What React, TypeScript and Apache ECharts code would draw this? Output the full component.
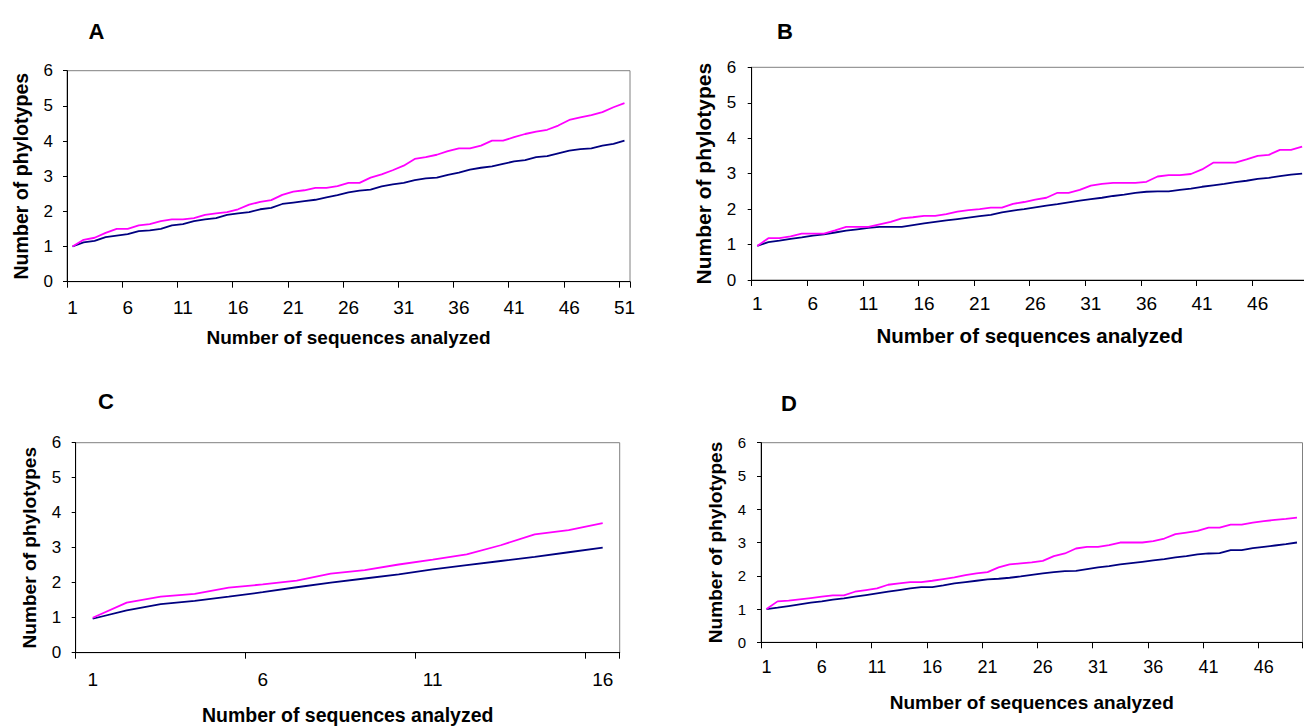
import React, { useEffect, useRef } from "react";
import * as echarts from "echarts";

// ---- Data ----
const aCount = 51;
const aMagenta = [1.0, 1.19, 1.25, 1.39, 1.5, 1.5, 1.6, 1.64, 1.72, 1.77, 1.77, 1.81, 1.9, 1.94, 1.98, 2.06, 2.19, 2.27, 2.32, 2.47, 2.56, 2.6, 2.67, 2.67, 2.72, 2.81,
  2.81, 2.96, 3.05, 3.17, 3.3, 3.49, 3.54, 3.61, 3.71, 3.79, 3.79, 3.87, 4.01, 4.01, 4.11, 4.2, 4.27, 4.32, 4.44, 4.6, 4.67, 4.74, 4.82, 4.96, 5.08];
const aNavy = [1.0, 1.12, 1.16, 1.27, 1.31, 1.35, 1.44, 1.46, 1.5, 1.6, 1.64, 1.72, 1.77, 1.81, 1.9, 1.94, 1.98, 2.06, 2.1, 2.21, 2.25, 2.29, 2.33, 2.4, 2.46, 2.54,
  2.59, 2.62, 2.71, 2.77, 2.81, 2.89, 2.94, 2.96, 3.04, 3.1, 3.19, 3.24, 3.28, 3.35, 3.42, 3.46, 3.54, 3.57, 3.65, 3.73, 3.77, 3.79, 3.87, 3.92, 4.01];

const bCount = 50;
const bMagenta = [0.96, 1.18, 1.18, 1.23, 1.31, 1.31, 1.31, 1.4, 1.5, 1.5, 1.5, 1.57, 1.64, 1.74, 1.77, 1.81, 1.81, 1.86, 1.93, 1.97, 2.0, 2.04, 2.04,
  2.15, 2.2, 2.27, 2.32, 2.46, 2.46, 2.54, 2.66, 2.71, 2.74, 2.74, 2.74, 2.77, 2.92, 2.96, 2.96, 2.99, 3.12, 3.31, 3.31, 3.31, 3.4, 3.5, 3.53, 3.67, 3.67, 3.76];
const bNavy = [0.96, 1.07, 1.11, 1.16, 1.2, 1.25, 1.29, 1.34, 1.39, 1.43, 1.47, 1.5, 1.5, 1.5, 1.55, 1.6, 1.64, 1.68, 1.72, 1.76, 1.8, 1.84, 1.91,
  1.96, 2.0, 2.05, 2.1, 2.14, 2.19, 2.24, 2.28, 2.32, 2.37, 2.41, 2.46, 2.49, 2.5, 2.5, 2.54, 2.58, 2.63, 2.67, 2.71, 2.76, 2.8, 2.85, 2.88, 2.93, 2.97, 3.0];

const cCount = 16;
const cMagenta = [1.0, 1.43, 1.6, 1.68, 1.86, 1.95, 2.06, 2.26, 2.36, 2.52, 2.66, 2.81, 3.07, 3.38, 3.5, 3.7];
const cNavy = [0.97, 1.21, 1.39, 1.48, 1.6, 1.73, 1.87, 2.0, 2.12, 2.24, 2.38, 2.5, 2.62, 2.74, 2.87, 3.0];

const dCount = 49;
const dMagenta = [1.0, 1.23, 1.25, 1.29, 1.33, 1.37, 1.41, 1.41, 1.52, 1.57, 1.62, 1.73, 1.77, 1.81, 1.81, 1.85, 1.9, 1.95, 2.02, 2.07, 2.11,
  2.25, 2.34, 2.37, 2.4, 2.45, 2.59, 2.67, 2.82, 2.87, 2.87, 2.92, 3.0, 3.0, 3.0, 3.04, 3.12, 3.25, 3.3, 3.35, 3.45, 3.45, 3.54, 3.54, 3.6, 3.64, 3.68, 3.71, 3.75];
const dNavy = [1.0, 1.04, 1.09, 1.14, 1.19, 1.23, 1.28, 1.32, 1.37, 1.42, 1.47, 1.52, 1.57, 1.62, 1.66, 1.66, 1.71, 1.77, 1.81, 1.85, 1.89,
  1.91, 1.94, 1.98, 2.03, 2.07, 2.11, 2.14, 2.15, 2.2, 2.25, 2.29, 2.34, 2.38, 2.42, 2.46, 2.5, 2.55, 2.59, 2.64, 2.67, 2.68, 2.77, 2.77, 2.83, 2.87, 2.91, 2.95, 3.0];

const yTicks = { min: 0, max: 6, step: 1 };
const panelLetters = ["A", "B", "C", "D"];
const xTitle = "Number of sequences analyzed";
const yTitle = "Number of phylotypes";

const categories = (n: number) => Array.from({ length: n }, (_, i) => String(i + 1));

// ---- Layout / style ----
const FONT = 'Arial, "Liberation Sans", Helvetica, sans-serif';
const MAGENTA = "#FF00FF";
const NAVY = "#000080";

const panels = [
  { count: aCount, magenta: aMagenta, navy: aNavy, grid: { left: 67, top: 70.7, width: 563.0, height: 211.0 },
    yLabelSize: 17, yLabelMargin: 14, xLabelSize: 19, xLabelMargin: 16, yNameSize: 19.6, yNameGap: 35.7, xNameSize: 19, xNameGap: 46,
    letter: { x: 96.5, y: 31 } },
  { count: bCount, magenta: bMagenta, navy: bNavy, grid: { left: 751.7, top: 67.3, width: 556.0, height: 212.7 },
    yLabelSize: 17, yLabelMargin: 15.5, xLabelSize: 19, xLabelMargin: 14, yNameSize: 21, yNameGap: 38.2, xNameSize: 20.5, xNameGap: 45,
    letter: { x: 785, y: 31 } },
  { count: cCount, magenta: cMagenta, navy: cNavy, grid: { left: 75.7, top: 442.7, width: 544.0, height: 210.0 },
    yLabelSize: 17, yLabelMargin: 14.5, xLabelSize: 19, xLabelMargin: 17.5, yNameSize: 19.1, yNameGap: 36.6, xNameSize: 19.5, xNameGap: 52.6,
    letter: { x: 106, y: 401 } },
  { count: dCount, magenta: dMagenta, navy: dNavy, grid: { left: 761, top: 442.7, width: 541.5, height: 199.6 },
    yLabelSize: 15, yLabelMargin: 15, xLabelSize: 18, xLabelMargin: 16, yNameSize: 19.1, yNameGap: 35.9, xNameSize: 19, xNameGap: 51,
    letter: { x: 789, y: 403 } },
];

export default function App() {
  const ref = useRef<HTMLDivElement>(null);

  useEffect(() => {
    if (!ref.current) return;
    const chart = echarts.init(ref.current, undefined, { renderer: "svg" });

    const grid = panels.map((p) => ({
      ...p.grid,
      show: true,
      borderColor: "#808080",
      borderWidth: 1,
      backgroundColor: "transparent",
      containLabel: false,
      outerBoundsMode: "none",
    }));

    const xAxis = panels.map((p, i) => ({
      gridIndex: i,
      type: "category",
      data: categories(p.count),
      boundaryGap: true,
      axisLine: { show: true, lineStyle: { color: "#000", width: 1 } },
      axisTick: { show: true, interval: 4, length: 6, lineStyle: { color: "#000", width: 1 } },
      axisLabel: { interval: 4, fontSize: p.xLabelSize, color: "#000", margin: p.xLabelMargin, fontFamily: FONT, hideOverlap: false },
      splitLine: { show: false },
      name: xTitle,
      nameLocation: "middle",
      nameGap: p.xNameGap,
      nameTextStyle: { fontWeight: "bold", fontSize: p.xNameSize, color: "#000", fontFamily: FONT },
    }));

    const yAxis = panels.map((p, i) => ({
      gridIndex: i,
      type: "value",
      min: yTicks.min,
      max: yTicks.max,
      interval: yTicks.step,
      axisLine: { show: true, lineStyle: { color: "#000", width: 1 } },
      axisTick: { show: true, length: 4, lineStyle: { color: "#000", width: 1 } },
      axisLabel: { fontSize: p.yLabelSize, color: "#000", margin: p.yLabelMargin, fontFamily: FONT },
      splitLine: { show: false },
      name: yTitle,
      nameLocation: "middle",
      nameRotate: 90,
      nameGap: p.yNameGap,
      nameTextStyle: { fontWeight: "bold", fontSize: p.yNameSize, color: "#000", fontFamily: FONT },
    }));

    const series: any[] = [];
    panels.forEach((p, i) => {
      series.push({
        type: "line", xAxisIndex: i, yAxisIndex: i, data: p.navy,
        symbol: "none", showSymbol: false, silent: true,
        lineStyle: { color: NAVY, width: 1.8 }, itemStyle: { color: NAVY },
      });
      series.push({
        type: "line", xAxisIndex: i, yAxisIndex: i, data: p.magenta,
        symbol: "none", showSymbol: false, silent: true,
        lineStyle: { color: MAGENTA, width: 1.8 }, itemStyle: { color: MAGENTA },
      });
    });

    const graphic = panels.map((p, i) => ({
      type: "text",
      x: p.letter.x,
      y: p.letter.y,
      style: {
        text: panelLetters[i],
        fontSize: 22,
        fontWeight: "bold",
        fontFamily: FONT,
        fill: "#000",
        align: "center",
        verticalAlign: "middle",
      },
    }));

    chart.setOption({
      animation: false,
      backgroundColor: "#fff",
      grid,
      xAxis,
      yAxis,
      series,
      graphic,
    });

    return () => chart.dispose();
  }, []);

  return (
    <div
      ref={ref}
      style={{ position: "absolute", left: 0, top: 0, width: 1304, height: 726, overflow: "hidden" }}
    />
  );
}
